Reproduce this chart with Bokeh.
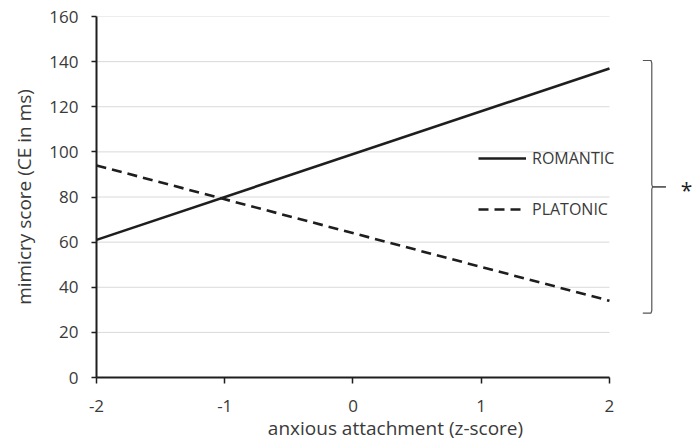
from bokeh.plotting import figure
from bokeh.models import Range1d, Legend, LegendItem, Label, FixedTicker
from bokeh.embed import file_html
from bokeh.resources import INLINE

# ---- data ----
x_ticks = [-2, -1, 0, 1, 2]
y_ticks = [0, 20, 40, 60, 80, 100, 120, 140, 160]
anxiety = [-2, 2]
romantic = [61, 137]
platonic = [94, 34]
series_names = ["ROMANTIC", "PLATONIC"]
brace_span = [140.5, 28.5]
sig_mark = "*"
x_title = "anxious attachment (z-score)"
y_title = "mimicry score (CE in ms)"

FONT = "Open Sans"
TEXT = "#3a3a3a"
INK = "#1e1e1e"

p = figure(width=694, height=443, output_backend="svg", toolbar_location=None,
           x_range=Range1d(-2, 2.663), y_range=Range1d(0, 160),
           min_border_left=96, min_border_right=0, min_border_top=16, min_border_bottom=66)
p.outline_line_color = None
p.xgrid.visible = False
p.ygrid.visible = False
p.background_fill_color = "white"

# horizontal gridlines (span only the data range in x)
gy = y_ticks[1:]
p.segment(x0=[x_ticks[0]] * len(gy), x1=[x_ticks[-1]] * len(gy), y0=gy, y1=gy,
          line_color="#d9d9d9", line_width=1)

r_rom = p.line(anxiety, romantic, line_color=INK, line_width=2.6)
r_pla = p.line(anxiety, platonic, line_color=INK, line_width=2.6, line_dash="10 6")

# axes
for ax in (p.xaxis[0], p.yaxis[0]):
    ax.axis_line_color = INK
    ax.axis_line_width = 2
    ax.major_tick_line_color = INK
    ax.major_tick_line_width = 1.5
    ax.major_tick_in = 0
    ax.minor_tick_line_color = None
    ax.major_label_text_font = FONT
    ax.major_label_text_font_size = "17px"
    ax.major_label_text_color = TEXT
    ax.axis_label_text_font = FONT
    ax.axis_label_text_font_size = "19px"
    ax.axis_label_text_font_style = "normal"
    ax.axis_label_text_color = TEXT

p.xaxis.ticker = FixedTicker(ticks=x_ticks)
p.xaxis.major_label_overrides = {t: str(t) for t in x_ticks}
p.xaxis.bounds = (x_ticks[0], x_ticks[-1])
p.xaxis.major_tick_out = 6
p.xaxis.major_label_standoff = 16
p.xaxis.axis_label = x_title
p.xaxis.axis_label_standoff = 0

p.yaxis.ticker = FixedTicker(ticks=y_ticks)
p.yaxis.bounds = (y_ticks[0], y_ticks[-1])
p.yaxis.major_tick_out = 5
p.yaxis.major_label_standoff = 13
p.yaxis.axis_label = y_title
p.yaxis.axis_label_standoff = 9

# legend
legend = Legend(items=[LegendItem(label=series_names[0], renderers=[r_rom]),
                       LegendItem(label=series_names[1], renderers=[r_pla])],
                location=(382, 157), padding=0, margin=0, spacing=29,
                glyph_width=48, glyph_height=20, label_height=20, label_standoff=6,
                background_fill_alpha=0, border_line_color=None,
                label_text_font=FONT, label_text_font_size="16px", label_text_color=TEXT)
p.add_layout(legend)

# significance brace
top, bot = brace_span
mid = (top + bot) / 2
bx, bl, bt = 2.33, 2.26, 2.44
p.multi_line(xs=[[bl, bx - 0.006, bx, bx, bx + 0.006, bt],
                 [bt, bx + 0.006, bx, bx, bx - 0.006, bl]],
             ys=[[top, top, top - 1.2, mid + 1.0, mid, mid],
                 [mid, mid, mid - 1.0, bot + 1.2, bot, bot]],
             line_color="#555555", line_width=1.2)
p.add_layout(Label(x=2.6, y=mid, text=sig_mark, text_align="center",
                   text_baseline="middle", y_offset=-3,
                   text_font=FONT, text_font_size="21px", text_color=INK))

open("out.html", "w").write(file_html(p, INLINE))
